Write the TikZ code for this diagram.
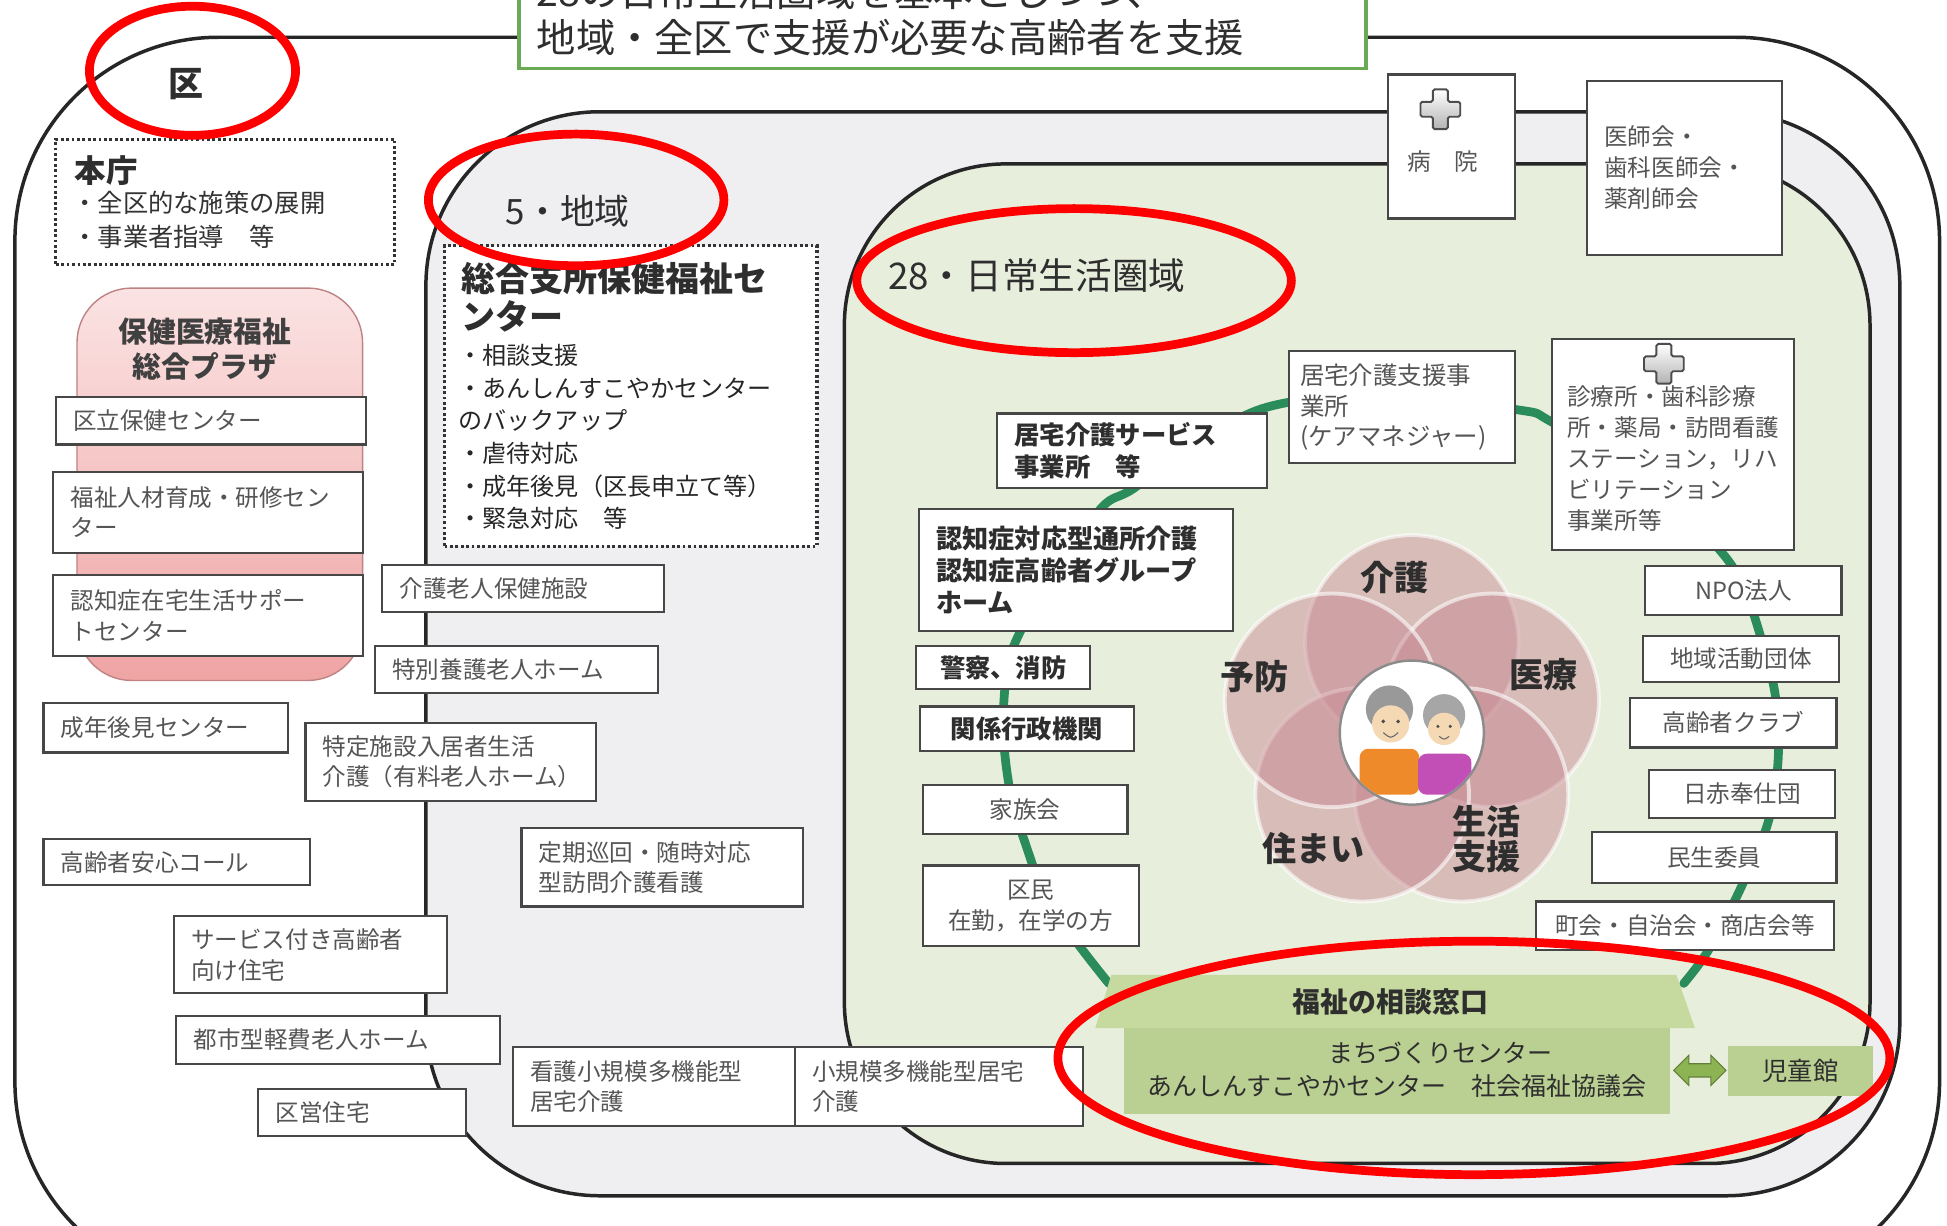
\documentclass[tikz,border=0pt]{standalone}
\usepackage{fontspec}
\setmainfont{Noto Sans CJK JP}
\usetikzlibrary{shapes.arrows}

\definecolor{boxtext}{HTML}{555555}
\definecolor{darktext}{HTML}{2E2E2E}
\definecolor{titlegreen}{HTML}{6BAA55}
\definecolor{areagray}{HTML}{EFEFF1}
\definecolor{areagreen}{HTML}{E8EEDC}
\definecolor{netgreen}{HTML}{2A8C5A}
\definecolor{plazatop}{HTML}{FBE3E3}
\definecolor{plazabot}{HTML}{F0A4A4}
\definecolor{petalc}{RGB}{200,140,148}
\definecolor{windowtop}{HTML}{C6DA9F}
\definecolor{windowbody}{HTML}{BAD092}
\definecolor{arrowgreen}{HTML}{8DB452}
\definecolor{skin}{HTML}{F5D9B5}
\definecolor{shirtorange}{HTML}{EE8A2A}
\definecolor{shirtpurple}{HTML}{C24FB5}

% box given by its corners (x1,y1)-(x2,y2); optional style last so it can override
\newcommand\boxat[7][]{%
  \node[boxst,minimum width={(#5-#3)*0.025cm},minimum height={(#6-#4)*0.025cm},
        text width={(#5-#3-28)*0.025cm},#1] (#2) at ({(#3+#5)/2},{(#4+#6)/2}) {#7};}

% medical cross icon centred at (#1,#2)
\newcommand\crossicon[2]{%
  \draw[black!70, line width=1.1pt, top color=white, bottom color=black!30, rounded corners=1pt]
   (#1-6,#2-16) -- (#1+6,#2-16) -- (#1+6,#2-6) -- (#1+16,#2-6) -- (#1+16,#2+6) -- (#1+6,#2+6)
   -- (#1+6,#2+16) -- (#1-6,#2+16) -- (#1-6,#2+6) -- (#1-16,#2+6) -- (#1-16,#2-6) -- (#1-6,#2-6) -- cycle;}

\begin{document}
\begin{tikzpicture}[x=0.025cm,y=-0.025cm,
  boxst/.style={draw=black!72, line width=1.2pt, fill=white, inner xsep=0.35cm, inner ysep=0pt,
    align=left, text=boxtext, font=\fontsize{13.5pt}{17.5pt}\selectfont},
  ctr/.style={align=center},
  dk/.style={text=darktext, font=\fontsize{14.5pt}{18.5pt}\selectfont\bfseries},
  area/.style={draw=black!85, line width=2pt},
  dotbox/.style={draw=black!80, line width=1.8pt, dash pattern=on 1.6pt off 1.5pt, fill=white},
  lbl/.style={text=darktext, inner sep=0pt},
  petal/.style={fill=petalc, fill opacity=0.5, draw=white, draw opacity=0.6, line width=2.2pt},
  petallabel/.style={text=darktext, font=\fontsize{19.5pt}{20pt}\selectfont\bfseries, align=center, inner sep=0pt},
  redmark/.style={draw=red, line width=5pt}]

\fill[white] (0,0) rectangle (1568,987);
\useasboundingbox (0,0) rectangle (1568,987);

% nested areas: ward, 5 districts, 28 daily-life areas
\draw[area, fill=white, rounded corners=4.1cm] (12,30) rectangle (1562,1035);
\draw[area, fill=areagray, rounded corners=3.5cm] (343,90) rectangle (1530,963);
\draw[area, fill=areagreen, rounded corners=3.25cm] (680,132) rectangle (1506,937);

% heading box
\node[draw=titlegreen, line width=2pt, fill=white, minimum width=682*0.025cm, minimum height=95*0.025cm, inner sep=0pt] (title) at (759,7.5) {};
\node[lbl, anchor=west, font=\fontsize{22.5pt}{26pt}\selectfont] (title-a) at (432,-7) {28の日常生活圏域を基本としつつ、};
\node[lbl, anchor=west, font=\fontsize{22.5pt}{26pt}\selectfont] (title-b) at (432,30) {地域・全区で支援が必要な高齢者を支援};

% area labels
\node[lbl, font=\fontsize{20pt}{22pt}\selectfont\bfseries] (ku) at (150,68) {区};
\node[lbl, anchor=west, font=\fontsize{20pt}{22pt}\selectfont] (go) at (407,170) {5・地域};
\node[lbl, anchor=west, font=\fontsize{21pt}{23pt}\selectfont] (nijuhachi) at (715,222) {28・日常生活圏域};

% head office
\node[dotbox, minimum width=273*0.025cm, minimum height=101*0.025cm, inner sep=0pt] (honcho) at (181.5,162.5) {};
\node[lbl, anchor=west, font=\fontsize{18pt}{20pt}\selectfont\bfseries] (honcho-t) at (60,137) {本庁};
\node[lbl, anchor=north west, align=left, text=black!80, font=\fontsize{14.5pt}{19pt}\selectfont] (honcho-b) at (58,154) {・全区的な施策の展開\\・事業者指導　等};

% health and welfare plaza
\path[draw=plazabot!80!black, line width=0.8pt, top color=plazatop, bottom color=plazabot, rounded corners=1.1cm] (62,232) rectangle (292,548);
\node[lbl, align=center, text=black!75, font=\fontsize{16.5pt}{20pt}\selectfont\bfseries] (plaza) at (165,281) {保健医療福祉\\総合プラザ};

\boxat{kuritsu}{45}{320}{295}{358}{区立保健センター}
\boxat{jinzai}{43}{380}{292}{445}{福祉人材育成・研修セン\\ター}
\boxat{ninchi}{43}{463}{292}{528}{認知症在宅生活サポー\\トセンター}
\boxat{seinen}{35}{566}{232}{606}{成年後見センター}
\boxat{anshin}{35}{676}{250}{713}{高齢者安心コール}
\boxat{sakoju}{140}{738}{360}{800}{サービス付き高齢者\\向け住宅}
\boxat{toshi}{142}{818}{403}{857}{都市型軽費老人ホーム}
\boxat{kuei}{208}{877}{375}{915}{区営住宅}

% district welfare centre
\node[dotbox, minimum width=300*0.025cm, minimum height=242*0.025cm, inner sep=0pt] (sogo) at (508,319) {};
\node[lbl, anchor=north west, align=left, font=\fontsize{19.5pt}{22pt}\selectfont\bfseries] (sogo-t) at (371,211) {総合支所保健福祉セ\\ンター};
\node[lbl, anchor=north west, align=left, text=black!85, font=\fontsize{13.8pt}{18.7pt}\selectfont] (sogo-b) at (369,277) {・相談支援\\・あんしんすこやかセンター\\のバックアップ\\・虐待対応\\・成年後見（区長申立て等）\\・緊急対応　等};

\boxat{roken}{308}{455}{535}{493}{介護老人保健施設}
\boxat{tokuyo}{302}{520}{530}{558}{特別養護老人ホーム}
\boxat{tokutei}{246}{582}{480}{645}{特定施設入居者生活\\介護（有料老人ホーム）}
\boxat{teiki}{420}{667}{647}{730}{定期巡回・随時対応\\型訪問介護看護}
\boxat{kanta}{413}{843}{640}{907}{看護小規模多機能型\\居宅介護}
\boxat{shota}{640}{843}{872}{907}{小規模多機能型居宅\\介護}

% hospital and medical associations
\node[boxst, minimum width=102*0.025cm, minimum height=116*0.025cm] (byoin) at (1169,118) {};
\crossicon{1160}{88}
\node[lbl, text=boxtext, font=\fontsize{13.5pt}{16pt}\selectfont] (byoin-t) at (1162,130) {病　院};
\boxat{ishikai}{1278}{65}{1435}{205}{医師会・\\歯科医師会・\\薬剤師会}

% local support network ring
\draw[netgreen, line width=5pt, line cap=round] plot[smooth, tension=0.55] coordinates {(893,792) (868,760) (842,722) (826,680) (814,640) (808,590) (811,540) (822,508) (850,462) (887,409) (912,394) (960,360) (1020,328) (1110,318) (1222,330) (1250,340) (1330,388) (1385,443) (1405,475) (1420,520) (1430,562) (1432,612) (1424,662) (1402,715) (1376,765) (1356,792)};

% five fields of support around the elderly
\foreach \a in {90,18,-54,-126,162}
  \path[petal] ({1137+68*cos(\a)},{585-68*sin(\a)}) circle [radius=86];
\node[petallabel] (kaigo) at (1123,465) {介護};
\node[petallabel] (iryo) at (1243,543) {医療};
\node[petallabel] (seikatsu) at (1197,676) {生活\\支援};
\node[petallabel] (sumai) at (1058,683) {住まい};
\node[petallabel] (yobo) at (1010,545) {予防};

\node[circle, draw=black!45, line width=1.4pt, fill=white, minimum size=116*0.025cm, inner sep=0pt] (elder) at (1137,590) {};
\begin{scope}
  \clip (1137,590) circle [radius=57];
  \fill[shirtorange, rounded corners=5pt] (1095,603) rectangle (1143,640);
  \fill[shirtpurple, rounded corners=5pt] (1142,607) rectangle (1185,640);
  \fill[black!40] (1119,571) circle [radius=19];
  \fill[skin] (1120,583) circle [radius=15];
  \fill[black!35] (1163,576) circle [radius=17];
  \fill[skin] (1163,587) circle [radius=13];
  \fill[black!70] (1114,581) circle [radius=1.6] (1126,581) circle [radius=1.6]
                  (1158,585) circle [radius=1.4] (1168,585) circle [radius=1.4];
  \draw[black!60, line width=0.6pt] (1114,590) .. controls (1120,595) .. (1126,590);
  \draw[black!60, line width=0.6pt] (1159,593) .. controls (1163,596) .. (1167,593);
\end{scope}

% services in the daily-life area
\boxat[dk]{kyotaku}{803}{333}{1020}{393}{居宅介護サービス\\事業所　等}
\boxat[inner xsep=0.18cm, text width=4.1cm, font=\fontsize{14pt}{17.5pt}\selectfont]{shien}{1038}{283}{1220}{373}{居宅介護支援事\\業所\\(ケアマネジャー)}
\node[boxst, minimum width=195*0.025cm, minimum height=170*0.025cm] (shinryo) at (1347.5,358) {};
\crossicon{1340}{293}
\node[lbl, anchor=north west, align=left, text=boxtext, font=\fontsize{13.5pt}{17.8pt}\selectfont] (shinryo-t) at (1262,310) {診療所・歯科診療\\所・薬局・訪問看護\\ステーション，リハ\\ビリテーション\\事業所等};
\boxat[dk, font=\fontsize{15pt}{18.5pt}\selectfont\bfseries]{ninchitai}{740}{410}{993}{508}{認知症対応型通所介護\\認知症高齢者グループ\\ホーム}
\boxat[dk,ctr]{keisatsu}{738}{520}{878}{555}{警察、消防}
\boxat[dk,ctr]{gyosei}{741}{569}{913}{605}{関係行政機関}
\boxat[ctr]{kazoku}{743}{632}{908}{672}{家族会}
\boxat[ctr]{kumin}{743}{697}{917}{762}{区民\\在勤，在学の方}

\boxat[ctr]{npo}{1325}{456}{1483}{495}{NPO法人}
\boxat[ctr]{chiiki}{1323}{512}{1481}{549}{地域活動団体}
\boxat[ctr]{club}{1313}{562}{1479}{602}{高齢者クラブ}
\boxat[ctr]{nisseki}{1328}{620}{1478}{659}{日赤奉仕団}
\boxat[ctr]{minsei}{1282}{670}{1479}{711}{民生委員}
\boxat[ctr]{chokai}{1237}{726}{1477}{765}{町会・自治会・商店会等}

% welfare consultation desk
\fill[windowtop] (895,785) -- (1350,785) -- (1365,828) -- (882,828) -- cycle;
\node[lbl, font=\fontsize{16pt}{18pt}\selectfont\bfseries] (madoguchi) at (1120,807) {福祉の相談窓口};
\fill[windowbody] (905,828) rectangle (1345,897);
\node[lbl, font=\fontsize{14.3pt}{17pt}\selectfont] (machi) at (1160,848) {まちづくりセンター};
\node[lbl, font=\fontsize{14.3pt}{17pt}\selectfont] (anshinsk) at (1125,875) {あんしんすこやかセンター　社会福祉協議会};
\node[fill=windowbody, minimum width=116*0.025cm, minimum height=41*0.025cm, text=darktext, font=\fontsize{14.5pt}{17pt}\selectfont] (jidokan) at (1450,862.5) {児童館};
\node[double arrow, fill=arrowgreen, draw=arrowgreen!70!black, line width=0.6pt, minimum height=42*0.025cm, inner sep=3.5pt, double arrow head extend=0.17cm] (link) at (1369,862) {};

% red highlight ellipses
\draw[redmark] (155,57) ellipse [x radius=83, y radius=52];
\draw[redmark] (464,161) ellipse [x radius=119, y radius=53];
\draw[redmark] (865,226) ellipse [x radius=175, y radius=58];
\draw[redmark] (1187,852) ellipse [x radius=335, y radius=94];
\end{tikzpicture}
\end{document}
